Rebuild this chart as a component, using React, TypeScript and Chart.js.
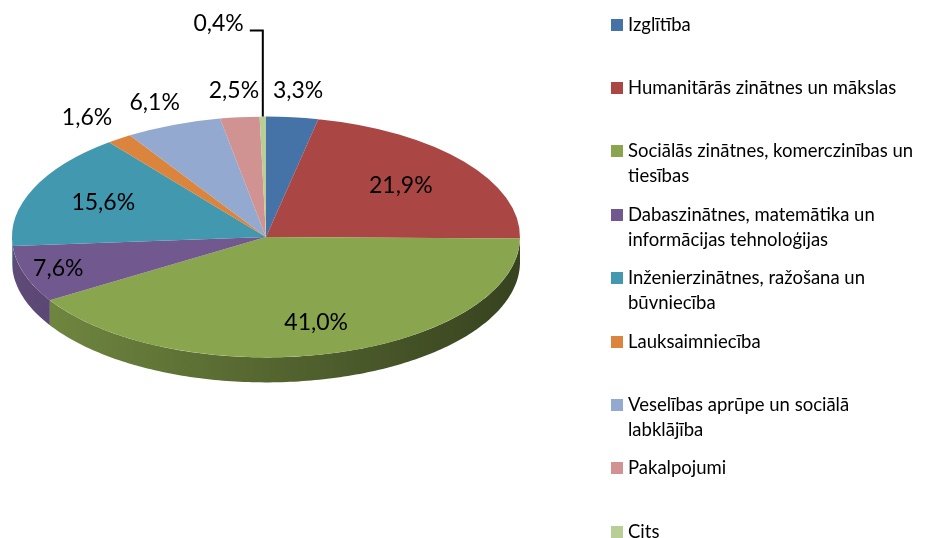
import React, { useEffect, useRef } from "react";
import { Chart, registerables } from "chart.js";

Chart.register(...registerables);

const categories = [
  "Izglītība",
  "Humanitārās zinātnes un mākslas",
  "Sociālās zinātnes, komerczinības un tiesības",
  "Dabaszinātnes, matemātika un informācijas tehnoloģijas",
  "Inženierzinātnes, ražošana un būvniecība",
  "Lauksaimniecība",
  "Veselības aprūpe un sociālā labklājība",
  "Pakalpojumi",
  "Cits",
];

const legendLines = [
  ["Izglītība"],
  ["Humanitārās zinātnes un mākslas"],
  ["Sociālās zinātnes, komerczinības un", "tiesības"],
  ["Dabaszinātnes, matemātika un", "informācijas tehnoloģijas"],
  ["Inženierzinātnes, ražošana un", "būvniecība"],
  ["Lauksaimniecība"],
  ["Veselības aprūpe un sociālā", "labklājība"],
  ["Pakalpojumi"],
  ["Cits"],
];

const shares = [3.3, 21.9, 41.0, 7.6, 15.6, 1.6, 6.1, 2.5, 0.4];

const colors = [
  "#4572a7",
  "#aa4643",
  "#89a54e",
  "#71588f",
  "#4198af",
  "#db843d",
  "#93a9cf",
  "#d19392",
  "#b9cd96",
];

// label radial factor (relative to ellipse); negative => leader label
const labelRadius = [1.22, 0.68, 0.74, 0.86, 0.7, 1.22, 1.2, 1.22, -1];

const PIE_CY = 237;
const TILT = 0.474;
const DEPTH = 25;
const LABEL_FONT = "23px Lato";

function shade(hex: string, f: number) {
  const n = parseInt(hex.slice(1), 16);
  const r = Math.round(((n >> 16) & 255) * f);
  const g = Math.round(((n >> 8) & 255) * f);
  const b = Math.round((n & 255) * f);
  return `rgb(${r},${g},${b})`;
}

const pie3d = {
  id: "pie3d",
  beforeDatasetsDraw(chart: any) {
    const ctx = chart.ctx;
    const meta = chart.getDatasetMeta(0);
    const first = meta.data[0];
    if (!first) return;
    const cx = first.x;
    const cy = first.y;
    const rx = first.outerRadius;
    const ry = rx * TILT;
    ctx.save();
    // side walls
    meta.data.forEach((arc: any, i: number) => {
      const a0 = Math.max(arc.startAngle, 0);
      const a1 = Math.min(arc.endAngle, Math.PI);
      if (a1 <= a0) return;
      const steps = Math.max(4, Math.ceil((a1 - a0) * 60));
      ctx.beginPath();
      for (let s = 0; s <= steps; s++) {
        const a = a0 + ((a1 - a0) * s) / steps;
        const x = cx + rx * Math.cos(a);
        const y = PIE_CY + ry * Math.sin(a);
        if (s === 0) ctx.moveTo(x, y);
        else ctx.lineTo(x, y);
      }
      for (let s = steps; s >= 0; s--) {
        const a = a0 + ((a1 - a0) * s) / steps;
        ctx.lineTo(cx + rx * Math.cos(a), PIE_CY + ry * Math.sin(a) + DEPTH);
      }
      ctx.closePath();
      const grad = ctx.createLinearGradient(cx - rx, 0, cx + rx, 0);
      grad.addColorStop(0, shade(colors[i], 0.84));
      grad.addColorStop(0.5, shade(colors[i], 0.62));
      grad.addColorStop(1, shade(colors[i], 0.4));
      ctx.fillStyle = grad;
      ctx.fill();
    });
    // flatten the top face
    ctx.translate(0, PIE_CY);
    ctx.scale(1, TILT);
    ctx.translate(0, -cy);
  },
  afterDatasetsDraw(chart: any) {
    const ctx = chart.ctx;
    ctx.restore();
    const meta = chart.getDatasetMeta(0);
    const first = meta.data[0];
    if (!first) return;
    const cx = first.x;
    const rx = first.outerRadius;
    const ry = rx * TILT;
    ctx.save();
    ctx.font = LABEL_FONT;
    ctx.fillStyle = "#000";
    ctx.textBaseline = "middle";
    meta.data.forEach((arc: any, i: number) => {
      const mid = (arc.startAngle + arc.endAngle) / 2;
      const text = shares[i].toFixed(1).replace(".", ",") + "%";
      const f = labelRadius[i];
      if (f > 0) {
        ctx.textAlign = "center";
        ctx.fillText(text, cx + rx * f * Math.cos(mid), PIE_CY + ry * f * Math.sin(mid));
      } else {
        const ex = cx + rx * Math.cos(mid);
        const ey = PIE_CY + ry * Math.sin(mid);
        const ly = ey - 86;
        ctx.strokeStyle = "#000";
        ctx.lineWidth = 2;
        ctx.beginPath();
        ctx.moveTo(ex - 13, ly);
        ctx.lineTo(ex, ly);
        ctx.lineTo(ex, ey);
        ctx.stroke();
        ctx.textAlign = "right";
        ctx.fillText(text, ex - 19, ly - 7);
      }
    });
    ctx.restore();
  },
};

export default function App() {
  const ref = useRef<HTMLCanvasElement | null>(null);
  useEffect(() => {
    if (!ref.current) return;
    const chart = new Chart(ref.current, {
      type: "pie",
      data: {
        labels: categories,
        datasets: [
          {
            data: shares,
            backgroundColor: colors,
            borderWidth: 0,
          },
        ],
      },
      options: {
        responsive: false,
        animation: false,
        layout: { padding: { left: 12, right: 417, top: 15, bottom: 15 } },
        plugins: {
          legend: { display: false },
          tooltip: { enabled: false },
        },
      },
      plugins: [pie3d],
    });
    return () => chart.destroy();
  }, []);

  return (
    <div
      style={{
        position: "fixed",
        left: 0,
        top: 0,
        width: 937,
        height: 538,
        background: "#fff",
        overflow: "hidden",
      }}
    >
      <canvas ref={ref} width={937} height={538} style={{ position: "absolute", left: 0, top: 0 }} />
      {legendLines.map((lines, i) => (
        <div
          key={i}
          style={{
            position: "absolute",
            left: 611,
            top: 24 + i * 63.4 - 12.5,
            fontFamily: "Lato",
            fontSize: 18.5,
            lineHeight: "25px",
            color: "#000",
            whiteSpace: "nowrap",
          }}
        >
          <span
            style={{
              position: "absolute",
              left: 0,
              top: 7,
              width: 12,
              height: 12,
              background: colors[i],
            }}
          />
          <div style={{ marginLeft: 17 }}>
            {lines.map((l, j) => (
              <div key={j}>{l}</div>
            ))}
          </div>
        </div>
      ))}
    </div>
  );
}
